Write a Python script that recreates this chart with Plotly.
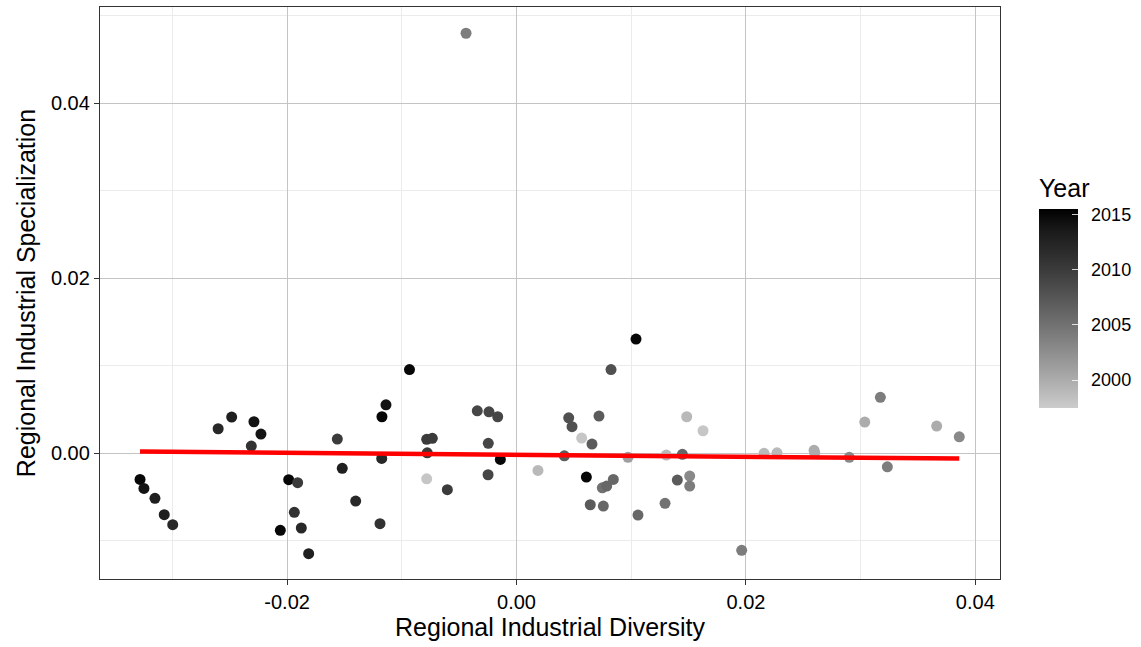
import plotly.graph_objects as go

# ---- data ----
diversity = [-0.03282, -0.03248, -0.03152, -0.03071, -0.02997, -0.02601, -0.02483, -0.02289, -0.02228, -0.02312,
             -0.01986, -0.01908, -0.01937, -0.01876, -0.02059, -0.01812, -0.01562, -0.01519, -0.01402, -0.01190,
             -0.01175, -0.01173, -0.01138, -0.00933, -0.00783, -0.00734, -0.00778, -0.00783, -0.00603, -0.00342,
             -0.00240, -0.00164, -0.00246, -0.00248, -0.00141, 0.00187, 0.00417, 0.00455, 0.00484, 0.00568,
             0.00658, 0.00719, 0.00609, 0.00643, 0.00757, 0.00748, 0.00786, 0.00844, 0.00824, 0.00972,
             0.01059, 0.01295, 0.01306, 0.01402, 0.01446, 0.01484, 0.01510, 0.01510, 0.01626, 0.01963,
             0.02158, 0.02271, 0.02594, 0.02600, 0.02901, 0.03036, 0.03172, 0.03233, 0.03663, 0.03860,
             -0.00440, 0.01042]
specialization = [-0.00301, -0.00405, -0.00518, -0.00705, -0.00819, 0.00278, 0.00411, 0.00358, 0.00217, 0.00080,
                  -0.00305, -0.00339, -0.00678, -0.00857, -0.00883, -0.01150, 0.00160, -0.00175, -0.00549, -0.00808,
                  -0.00061, 0.00415, 0.00552, 0.00954, 0.00157, 0.00168, 0.00003, -0.00294, -0.00419, 0.00483,
                  0.00472, 0.00415, 0.00111, -0.00248, -0.00073, -0.00199, -0.00031, 0.00403, 0.00301, 0.00171,
                  0.00103, 0.00423, -0.00274, -0.00591, -0.00606, -0.00397, -0.00377, -0.00301, 0.00954, -0.00049,
                  -0.00709, -0.00575, -0.00023, -0.00309, -0.00015, 0.00415, -0.00263, -0.00377, 0.00255, -0.01112,
                  -0.00003, 0.00003, 0.00031, 0.00000, -0.00049, 0.00354, 0.00637, -0.00157, 0.00309, 0.00186,
                  0.04800, 0.01303]
year = [2015, 2014, 2013, 2013, 2012, 2012, 2013, 2014, 2014, 2011,
        2015, 2010, 2011, 2012, 2015, 2013, 2010, 2013, 2012, 2011,
        2012, 2015, 2014, 2015, 2010, 2010, 2010, 1998, 2010, 2009,
        2009, 2009, 2009, 2009, 2015, 1999, 2007, 2008, 2008, 1998,
        2007, 2007, 2015, 2007, 2006, 2005, 2006, 2006, 2008, 2001,
        2006, 2005, 1999, 2007, 2006, 1999, 2003, 2004, 1998, 2004,
        1999, 1999, 2000, 2000, 2003, 2000, 2004, 2004, 2000, 2003,
        2004, 2015]

# linear fit line as drawn in the reference (end points)
fit_x = [-0.03282, 0.03860]
fit_y = [0.00017, -0.00063]

x_tick_vals = [-0.02, 0.00, 0.02, 0.04]
x_tick_text = ["-0.02", "0.00", "0.02", "0.04"]
x_minor_vals = [-0.03, -0.01, 0.01, 0.03]
y_tick_vals = [0.00, 0.02, 0.04]
y_tick_text = ["0.00", "0.02", "0.04"]
y_minor_vals = [-0.01, 0.01, 0.03, 0.05]
year_ticks = [2000, 2005, 2010, 2015]
year_tick_text = ["\u2002" + str(v) for v in year_ticks]
year_min, year_max = 1997.5, 2015.5


# ---- grey ramp interpolated in Lab lightness (like ggplot gradient) ----
def gray_from_L(L):
    fy = (L + 16) / 116
    Y = fy ** 3 if fy ** 3 > 0.008856 else L / 903.3
    c = 12.92 * Y if Y <= 0.0031308 else 1.055 * Y ** (1 / 2.4) - 0.055
    v = max(0, min(255, round(255 * c)))
    return f"rgb({v},{v},{v})"


L_low = 82.05
colorscale = [[i / 10, gray_from_L(L_low * (1 - i / 10))] for i in range(11)]

FONT = "Liberation Sans, Arial, Helvetica, sans-serif"

fig = go.Figure()
fig.add_trace(go.Scatter(
    x=diversity, y=specialization, mode="markers",
    marker=dict(size=11, color=year, colorscale=colorscale, cmin=year_min, cmax=year_max,
                line=dict(width=0),
                colorbar=dict(
                    title=dict(text="Year", side="top", font=dict(size=25, color="black", family=FONT)),
                    tickvals=year_ticks, ticktext=year_tick_text,
                    ticks="inside", ticklen=6, tickcolor="rgba(255,255,255,0.8)",
                    tickfont=dict(size=18, color="black", family=FONT),
                    thickness=39, thicknessmode="pixels",
                    len=232, lenmode="pixels",
                    x=1.0433, xanchor="left", y=0.705, yanchor="top",
                    xpad=0, ypad=0, outlinewidth=0,
                )),
    showlegend=False, hoverinfo="skip",
))
fig.add_trace(go.Scatter(
    x=fit_x, y=fit_y, mode="lines",
    line=dict(color="#ff0000", width=4.5),
    showlegend=False, hoverinfo="skip",
))

axis_common = dict(
    showline=True, linecolor="#333333", linewidth=1.3, mirror=True,
    ticks="outside", ticklen=5, tickcolor="#333333", tickwidth=1,
    showgrid=True, gridcolor="#c4c4c4", gridwidth=1,
    zeroline=False,
    tickfont=dict(size=20, color="black", family=FONT),
)

fig.update_layout(
    width=1141, height=647,
    margin=dict(l=100, r=141, t=7, b=68, autoexpand=False),
    plot_bgcolor="white", paper_bgcolor="white",
    font=dict(family=FONT, color="black"),
    xaxis=dict(axis_common, range=[-0.03631, 0.04215], tickvals=x_tick_vals, ticktext=x_tick_text,
               minor=dict(tickvals=x_minor_vals, showgrid=True, gridcolor="#ebebeb", gridwidth=1, ticks=""),
               title=dict(text="Regional Industrial Diversity", font=dict(size=25, family=FONT, color="black"),
                          standoff=6)),
    yaxis=dict(axis_common, range=[-0.0144, 0.0510], tickvals=y_tick_vals, ticktext=y_tick_text,
               minor=dict(tickvals=y_minor_vals, showgrid=True, gridcolor="#ebebeb", gridwidth=1, ticks=""),
               title=dict(text="Regional Industrial Specialization", font=dict(size=25, family=FONT, color="black"),
                          standoff=8)),
)

fig.write_html("out.html", config={"displayModeBar": False},
               post_script="document.body.style.margin='0px';document.body.style.overflow='hidden';")
